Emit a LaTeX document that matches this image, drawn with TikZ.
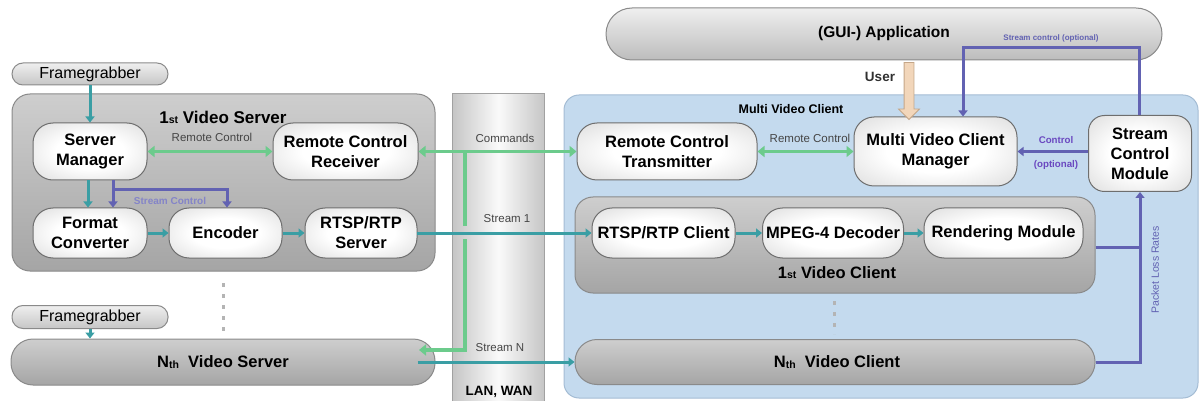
\documentclass[tikz,border=0pt]{standalone}
\usepackage{fontspec}
\setmainfont{Liberation Sans}
\usetikzlibrary{arrows.meta,shapes.arrows,calc}

\definecolor{boxtop}{HTML}{CECECE}
\definecolor{boxbot}{HTML}{A5A5A5}
\definecolor{boxline}{HTML}{8A8A8A}
\definecolor{inmid}{HTML}{E2E2E2}
\definecolor{inedge}{HTML}{C6C6C6}
\definecolor{inline}{HTML}{6E6E6E}
\definecolor{pilltop}{HTML}{EFEFEF}
\definecolor{pillbot}{HTML}{C6C6C6}
\definecolor{lanside}{HTML}{C6C6C6}
\definecolor{lanmid}{HTML}{FAFAFA}
\definecolor{clientbg}{HTML}{C4DAEE}
\definecolor{clientline}{HTML}{A4BCD4}
\definecolor{lgreen}{HTML}{6CCB8C}
\definecolor{teal}{HTML}{3A9EA4}
\definecolor{purp}{HTML}{6262B2}
\definecolor{purptext}{HTML}{6A48C0}
\definecolor{purplight}{HTML}{8484C8}
\definecolor{labelgray}{HTML}{454545}
\definecolor{dashgray}{HTML}{B4B4B4}
\definecolor{userfill}{HTML}{F2D6BA}
\definecolor{userline}{HTML}{C4A688}

% soft white glow for the module boxes
\pgfdeclareradialshading{moduleglow}{\pgfpoint{0bp}{0bp}}{%
  color(0bp)=(white); color(15bp)=(white); color(33bp)=(inmid);
  color(50bp)=(inedge); color(75bp)=(inedge)}

\newcommand\boxfont{\fontsize{16.5}{20}\selectfont\bfseries}
\newcommand\smallst[1]{{\fontsize{10.5}{12}\selectfont #1}}

\begin{document}
\begin{tikzpicture}[x=1pt,y=-1pt,
  outerbox/.style={draw=boxline, line width=1pt, rounded corners=18pt,
    top color=boxtop, bottom color=boxbot, inner sep=0pt},
  pillbox/.style={outerbox, rounded corners=22pt},
  inbox/.style={draw=inline, line width=1pt, rounded corners=20pt,
    shading=moduleglow, font=\boxfont, align=center, inner sep=0pt},
  grabber/.style={draw=boxline, line width=1pt, rounded corners=11pt,
    top color=pilltop, bottom color=pillbot, inner sep=0pt,
    font=\fontsize{16}{18}\selectfont},
  title/.style={font=\boxfont, inner sep=0pt},
  lbl/.style={font=\fontsize{11.5}{13}\selectfont, text=labelgray, inner sep=0pt},
  greenln/.style={draw=lgreen, line width=3.5pt},
  greenarr/.style={greenln, -{Triangle[width=11pt,length=7pt]}},
  greenboth/.style={greenln, {Triangle[width=11pt,length=7pt]}-{Triangle[width=11pt,length=7pt]}},
  tealarr/.style={draw=teal, line width=3pt, -{Triangle[width=9pt,length=6pt]}},
  purpln/.style={draw=purp, line width=3pt},
  purparr/.style={purpln, -{Triangle[width=9pt,length=6pt]}},
  dots/.style={draw=dashgray, line width=3pt, dash pattern=on 4pt off 7pt}
]
\useasboundingbox (0,0) rectangle (1203,401);

% ---------------- network bar ----------------
\node[minimum width=91pt, minimum height=308pt, inner sep=0pt,
      left color=lanside, right color=lanside, middle color=lanmid] (lan) at (498.5,248) {};
\draw[draw=boxline!80, line width=1pt] (lan.south west) |- (lan.north east) -- (lan.south east);
\node[font=\fontsize{13.5}{15}\selectfont\bfseries, inner sep=0pt] (lanlbl) at (499,392) {LAN, WAN};

% ---------------- video servers ----------------
\node[grabber, minimum width=156pt, minimum height=22pt] (fg1) at (90,74) {Framegrabber};
\node[outerbox, minimum width=423pt, minimum height=177pt] (vs1) at (223.5,182.5) {};
\node[title, font=\fontsize{17}{20}\selectfont\bfseries] (vs1t) at (223,117) {1\smallst{st} Video Server};

\node[inbox, minimum width=114pt, minimum height=57pt] (sm)  at (90,151.5)  {Server\\Manager};
\node[inbox, minimum width=145pt, minimum height=57pt] (rcr) at (345.5,151.5) {Remote Control\\Receiver};
\node[inbox, minimum width=114pt, minimum height=50pt] (fc)  at (90,233)   {Format\\Converter};
\node[inbox, minimum width=113pt, minimum height=50pt] (enc) at (225.5,233) {Encoder};
\node[inbox, minimum width=112pt, minimum height=50pt] (rts) at (361,233)  {RTSP/RTP\\Server};

\node[grabber, minimum width=156pt, minimum height=23pt] (fg2) at (90,317) {Framegrabber};
\node[pillbox, minimum width=424pt, minimum height=46pt] (vsn) at (223,362) {};
\node[title] (vsnt) at (223,362) {N\raisebox{-1pt}{\smallst{th}}\ \ Video Server};

\coordinate (sdotA) at (223,283);
\coordinate (sdotB) at (223,331);
\draw[dots] (sdotA) -- (sdotB);

% ---------------- application and client side ----------------
\node[draw=boxline, line width=1pt, rounded corners=26pt, top color=pilltop, bottom color=pillbot!95!black,
      minimum width=556pt, minimum height=52pt, inner sep=0pt] (gui) at (884,34) {};
\node[font=\fontsize{15.5}{18}\selectfont\bfseries, inner sep=0pt] (guit) at (884,33) {(GUI-) Application};

\node[draw=clientline, line width=1pt, fill=clientbg, rounded corners=15pt,
      minimum width=634pt, minimum height=303pt, inner sep=0pt] (mvc) at (881,246.5) {};
\node[font=\fontsize{12.5}{14}\selectfont\bfseries, inner sep=0pt] (mvct) at (791,109) {Multi Video Client};

\node[inbox, minimum width=180pt, minimum height=57pt] (rct)  at (667,151.5)  {Remote Control\\Transmitter};
\node[inbox, minimum width=163pt, minimum height=69pt] (mvcm) at (935.5,151.5) {Multi Video Client\\Manager};
\node[inbox, rounded corners=16pt, minimum width=103pt, minimum height=76pt] (scm) at (1140,153.5) {Stream\\Control\\Module};

\node[outerbox, minimum width=520pt, minimum height=96pt] (vc1) at (835,245) {};
\node[title] (vc1t) at (837,273) {1\smallst{st} Video Client};
\node[inbox, minimum width=143pt, minimum height=50pt] (rtc) at (663.5,233)  {RTSP/RTP Client};
\node[inbox, minimum width=141pt, minimum height=50pt] (dec) at (833,233)    {MPEG-4 Decoder};
\node[inbox, minimum width=159pt, minimum height=50pt] (ren) at (1003.5,233) {Rendering Module};

\node[pillbox, minimum width=520pt, minimum height=45pt] (vcn) at (835,362) {};
\node[title] (vcnt) at (837,362) {N\raisebox{-1pt}{\smallst{th}}\ \ Video Client};

\coordinate (cdotA) at (834,301);
\coordinate (cdotB) at (834,334);
\draw[dots] (cdotA) -- (cdotB);

% ---------------- user input ----------------
\node[single arrow, draw=userline, fill=userfill, line width=0.8pt, rotate=-90,
      minimum height=57pt, inner xsep=0pt, inner ysep=4.5pt,
      single arrow head extend=5.5pt] (userarr) at (909,88.5) {};
\node[font=\fontsize{13.5}{15}\selectfont\bfseries, text=labelgray!70!black, inner sep=0pt] (userlbl) at (880,77) {User};

% ---------------- video data path ----------------
\draw[tealarr] (fg1.south) -- (sm.north);
\draw[tealarr] ([xshift=-2pt]sm.south) -- ([xshift=-2pt]fc.north);
\draw[tealarr] (fc) -- (enc);
\draw[tealarr] (enc) -- (rts);
\draw[tealarr] ([xshift=-1pt]rts.east) -- (rtc.west);
\draw[tealarr] (rtc) -- (dec);
\draw[tealarr] (dec) -- (ren);
\draw[tealarr] (fg2.south) -- (fg2.south |- vsn.north);
\draw[tealarr] ([xshift=-18pt]vsn.east) -- (vcn.west);

% ---------------- remote control path ----------------
\draw[greenboth] (sm) -- (rcr);
\draw[greenboth] (rcr) -- (rct);
\draw[greenboth] (rct) -- (mvcm);
\coordinate (cmdj) at (465,151.5);
\coordinate (gapA) at (465,226);
\coordinate (gapB) at (465,239);
\coordinate (nthin) at (419,350);
\draw[greenln] (cmdj) -- (gapA);
\draw[greenarr] (gapB) |- (nthin);

% ---------------- stream control path ----------------
\coordinate (scsplit) at (113,190);
\draw[purparr] (sm.south -| scsplit) -- (fc.north -| scsplit);
\draw[purparr] (scsplit) -| ([xshift=1.5pt]enc.north);
\draw[purparr] (scm.west |- mvcm.east) -- (mvcm.east);
\coordinate (sctl) at (963,48);
\draw[purparr] ([xshift=-1pt]scm.north) |- (sctl) -- (sctl |- mvcm.north);
\coordinate (plj) at (1140,247);
\draw[purpln] (vc1.east |- plj) -- (plj);
\draw[purparr] (vcn.east) -| (scm.south);

% ---------------- labels ----------------
\node[lbl] (rcl1) at (212,137) {Remote Control};
\node[lbl] (rcl2) at (810,138) {Remote Control};
\node[lbl] (cmdl) at (505,138) {Commands};
\node[lbl] (s1l)  at (507,219) {Stream 1};
\node[lbl] (snl)  at (500,348) {Stream N};
\node[font=\fontsize{10}{12}\selectfont\bfseries, text=purplight, inner sep=0pt] (scl) at (170,201) {Stream Control};
\node[font=\fontsize{9.7}{11}\selectfont\bfseries, text=purptext, inner sep=0pt] (ctl) at (1056,140) {Control};
\node[font=\fontsize{9.7}{11}\selectfont\bfseries, text=purptext, inner sep=0pt] (optl) at (1056,165) {(optional)};
\node[font=\fontsize{8}{10}\selectfont\bfseries, text=purp, inner sep=0pt] (scopt) at (1051,38) {Stream control (optional)};
\node[font=\fontsize{10.5}{12}\selectfont, text=purp, rotate=90, inner sep=0pt] (plrl) at (1155,270) {Packet Loss Rates};
\end{tikzpicture}
\end{document}
